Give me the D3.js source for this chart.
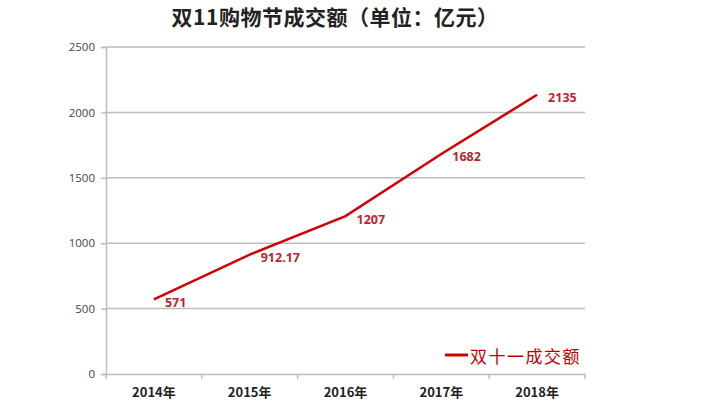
<!DOCTYPE html>
<html><head><meta charset="utf-8">
<script src="https://cdn.jsdelivr.net/npm/d3@7"></script>
<style>body{margin:0;background:#fff;} svg{display:block;}</style>
</head><body>
<svg id="chart" width="720" height="414"></svg>
<script>
const title = "双11购物节成交额（单位：亿元）";
const categories = ["2014年","2015年","2016年","2017年","2018年"];
const values = [571, 912.17, 1207, 1682, 2135];
const valueLabels = ["571","912.17","1207","1682","2135"];
const yTicks = [0, 500, 1000, 1500, 2000, 2500];
const seriesName = "双十一成交额";

(function () {
const svg = d3.select("#chart");
const mLeft = 106, mRight = 585, mTop = 47, mBottom = 374;
const x = d3.scaleBand().domain(categories).range([mLeft, mRight]);
const y = d3.scaleLinear().domain([0, 2500]).range([mBottom, mTop]);
const cjk = "'Noto Sans CJK SC', 'Noto Sans', sans-serif";
const num = "'Open Sans', 'Noto Sans', sans-serif";

svg.append("text").attr("x", 335).attr("y", 25).attr("text-anchor", "middle")
  .attr("font-family", cjk).attr("font-weight", "bold").attr("font-size", 21)
  .attr("fill", "#222").attr("letter-spacing", 0.5).text(title);

// grid lines
svg.append("g").selectAll("line").data(yTicks.filter(d => d > 0)).join("line")
  .attr("x1", mLeft).attr("x2", mRight).attr("y1", d => y(d)).attr("y2", d => y(d))
  .attr("stroke", "#bdbdbd").attr("stroke-width", 1.5);

// y axis
const yAxis = svg.append("g").attr("transform", `translate(${mLeft},0)`)
  .call(d3.axisLeft(y).tickValues(yTicks).tickFormat(d3.format("d")).tickSize(5).tickPadding(6));
yAxis.select(".domain").attr("stroke", "#bdbdbd").attr("stroke-width", 1.5);
yAxis.selectAll(".tick line").attr("stroke", "#bdbdbd").attr("stroke-width", 1.5);
yAxis.selectAll(".tick text").attr("font-family", num).attr("font-size", 11.5).attr("fill", "#444");

// x axis
const xAxis = svg.append("g").attr("transform", `translate(0,${mBottom})`)
  .call(d3.axisBottom(x).tickSize(0).tickPadding(14));
xAxis.select(".domain").attr("stroke", "#bdbdbd").attr("stroke-width", 1.5);
xAxis.selectAll(".tick text").attr("font-family", cjk).attr("font-weight", "bold")
  .attr("font-size", 13).attr("fill", "#222");
// boundary tick marks
const bounds = [mLeft, ...categories.map(c => x(c) + x.bandwidth())];
svg.append("g").selectAll("line").data(bounds).join("line")
  .attr("x1", d => d).attr("x2", d => d).attr("y1", mBottom).attr("y2", mBottom + 5)
  .attr("stroke", "#bdbdbd").attr("stroke-width", 1.5);

// line
const line = d3.line().x((d, i) => x(categories[i]) + x.bandwidth() / 2).y(d => y(d));
svg.append("path").datum(values).attr("d", line).attr("fill", "none")
  .attr("stroke", "#d40000").attr("stroke-width", 2.5);

// labels
svg.append("g").selectAll("text").data(values).join("text")
  .attr("x", (d, i) => x(categories[i]) + x.bandwidth() / 2 + 11)
  .attr("y", d => y(d) + 3)
  .attr("dominant-baseline", "central")
  .attr("font-family", num).attr("font-weight", "bold").attr("font-size", 12.5)
  .attr("fill", "#b8272f").text((d, i) => valueLabels[i]);

// legend
svg.append("line").attr("x1", 445).attr("x2", 468).attr("y1", 355).attr("y2", 355)
  .attr("stroke", "#d40000").attr("stroke-width", 3);
svg.append("text").attr("x", 470).attr("y", 355).attr("dominant-baseline", "central")
  .attr("font-family", cjk).attr("font-size", 17).attr("letter-spacing", 1.5)
  .attr("fill", "#c00000").text(seriesName);
})();
</script>
</body></html>
